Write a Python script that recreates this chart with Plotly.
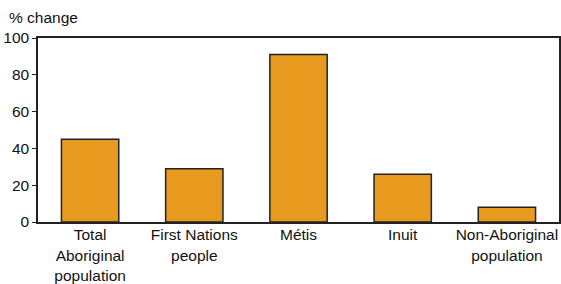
import plotly.graph_objects as go

categories = ["Total<br>Aboriginal<br>population", "First Nations<br>people", "Métis", "Inuit", "Non-Aboriginal<br>population"]
values = [45, 29, 91, 26, 8]
y_ticks = [0, 20, 40, 60, 80, 100]

FONT = "Liberation Sans"
FS = 15.5

fig = go.Figure(go.Bar(
    x=categories, y=values,
    marker=dict(color="#E89A1F", line=dict(color="#222222", width=1.5)),
    width=0.55,
))

fig.update_layout(
    width=561, height=284,
    margin=dict(l=38, r=2, t=38, b=62, autoexpand=False),
    paper_bgcolor="white", plot_bgcolor="white",
    font=dict(family=FONT, size=FS, color="#111111"),
    showlegend=False,
    annotations=[dict(text="% change", x=0, y=1, xref="paper", yref="paper",
                      xanchor="left", yanchor="bottom", xshift=-31, yshift=10,
                      showarrow=False, font=dict(family=FONT, size=FS, color="#111111"))],
)
fig.update_yaxes(range=[0, 100], tickvals=y_ticks, ticks="outside", ticklen=4,
                 tickcolor="#222222", showgrid=False, showline=True, linecolor="#222222",
                 linewidth=1.5, mirror=True, zeroline=False, automargin=False)
fig.update_xaxes(showline=True, linecolor="#222222", linewidth=1.5, mirror=True,
                 ticks="", showgrid=False, tickangle=0, automargin=False,
                 ticklabelstandoff=-2)

fig.write_html("out.html", config={"displayModeBar": False},
               post_script="document.body.style.margin='0';document.body.style.overflow='hidden';")
